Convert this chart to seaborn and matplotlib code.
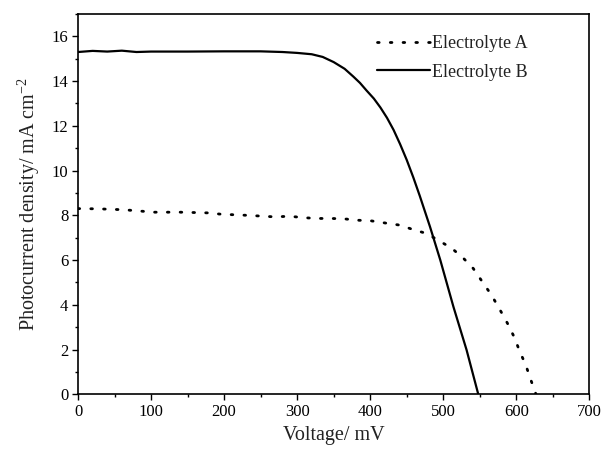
import matplotlib
matplotlib.use("Agg")
import matplotlib.pyplot as plt
from matplotlib.ticker import MultipleLocator
import seaborn as sns
import pandas as pd

# Data
volt_a = [0, 28, 62, 82, 103, 140, 177, 196, 232, 270, 289, 311, 329, 347, 365, 384, 402,
          420, 441, 459, 477, 493, 512, 528, 541, 555, 566, 578, 588, 597, 605, 613, 620, 627]
curr_a = [8.30, 8.29, 8.25, 8.20, 8.14, 8.14, 8.11, 8.05, 8.00, 7.93, 7.96, 7.89, 7.86, 7.86,
          7.84, 7.78, 7.75, 7.66, 7.56, 7.36, 7.19, 6.89, 6.52, 6.07, 5.63, 4.96, 4.44, 3.76,
          3.17, 2.57, 1.90, 1.31, 0.64, 0.0]

volt_b = [0, 20, 40, 60, 80, 100, 150, 200, 250, 280, 300, 320, 335, 350, 365, 377, 386,
          395, 405, 414, 423, 432, 441, 450, 459, 468, 482, 496, 514, 532, 548]
curr_b = [15.30, 15.35, 15.32, 15.36, 15.30, 15.32, 15.32, 15.33, 15.33, 15.30, 15.26, 15.20,
          15.08, 14.85, 14.55, 14.20, 13.92, 13.58, 13.22, 12.82, 12.36, 11.82, 11.18, 10.48,
          9.70, 8.86, 7.48, 6.00, 3.91, 1.98, 0.0]

labels = ["Electrolyte A", "Electrolyte B"]
x_label = "Voltage/ mV"
y_label = "Photocurrent density/ mA cm$^{-2}$"

sns.set_theme(style="ticks")
plt.rcParams["font.family"] = ["Liberation Serif", "DejaVu Serif"]
plt.rcParams["mathtext.fontset"] = "custom"
plt.rcParams["mathtext.rm"] = "Liberation Serif"
plt.rcParams["mathtext.it"] = "Liberation Serif:italic"

df_a = pd.DataFrame({"V": volt_a, "I": curr_a})
df_b = pd.DataFrame({"V": volt_b, "I": curr_b})

fig = plt.figure(figsize=(6.02, 4.54), dpi=100)
ax = fig.add_axes([0.1296, 0.1315, 0.8493, 0.8377])

sns.lineplot(data=df_a, x="V", y="I", ax=ax, color="black", linewidth=2.0,
             linestyle=(0, (0.6, 4.0)), dash_capstyle="round", label=labels[0],
             sort=False, estimator=None)
sns.lineplot(data=df_b, x="V", y="I", ax=ax, color="black", linewidth=1.6,
             label=labels[1], sort=False, estimator=None)

ax.set_xlim(0, 700)
ax.set_ylim(0, 17)
ax.xaxis.set_major_locator(MultipleLocator(100))
ax.xaxis.set_minor_locator(MultipleLocator(50))
ax.yaxis.set_major_locator(MultipleLocator(2))
ax.yaxis.set_minor_locator(MultipleLocator(1))
ax.tick_params(axis="both", which="major", direction="out", length=4, width=1.0,
               labelsize=12, colors="black", pad=3)
ax.tick_params(axis="both", which="minor", direction="out", length=2.5, width=1.0,
               colors="black")
ax.tick_params(top=False, right=False, which="both")

for s in ax.spines.values():
    s.set_visible(True)
    s.set_linewidth(1.2)
    s.set_color("black")

ax.set_xlabel(x_label, fontsize=14.5, labelpad=4, color="#222222")
ax.set_ylabel(y_label, fontsize=14.5, labelpad=7, color="#222222")

leg = ax.legend(loc="upper right", frameon=False, fontsize=13, handlelength=2.9,
                handletextpad=0.15, labelspacing=0.65, borderaxespad=0.3,
                bbox_to_anchor=(0.905, 0.978))
for t in leg.get_texts():
    t.set_color("#222222")

fig.savefig("out.png", dpi=100)
